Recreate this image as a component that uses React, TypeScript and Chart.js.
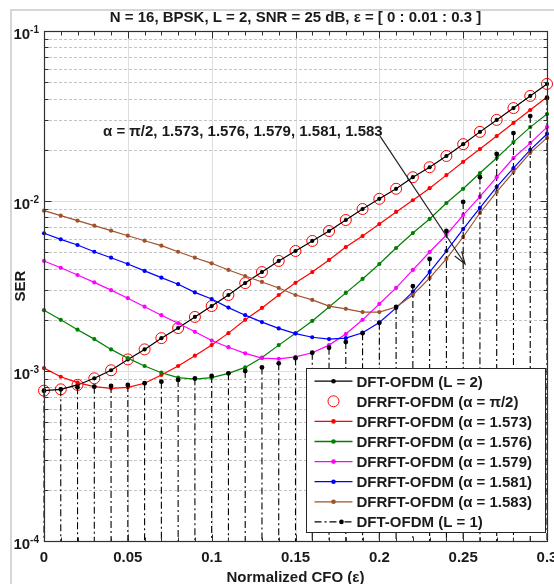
import React, { useEffect, useRef } from 'react';
import { Chart, registerables } from 'chart.js';

Chart.register(...registerables);

// ---------------- data ----------------
const eps = [
  0, 0.01, 0.02, 0.03, 0.04, 0.05, 0.06, 0.07, 0.08, 0.09, 0.1,
  0.11, 0.12, 0.13, 0.14, 0.15, 0.16, 0.17, 0.18, 0.19, 0.2,
  0.21, 0.22, 0.23, 0.24, 0.25, 0.26, 0.27, 0.28, 0.29, 0.3,
];

const serDftL2 = [
  7.66e-4, 7.8e-4, 8.28e-4, 9.06e-4, 1.01e-3, 1.17e-3, 1.34e-3, 1.56e-3, 1.79e-3, 2.08e-3,
  2.41e-3, 2.8e-3, 3.29e-3, 3.82e-3, 4.44e-3, 5.08e-3, 5.82e-3, 6.66e-3, 7.73e-3, 8.97e-3,
  1.03e-2, 1.18e-2, 1.38e-2, 1.58e-2, 1.84e-2, 2.16e-2, 2.55e-2, 3.0e-2, 3.52e-2, 4.15e-2, 4.88e-2,
];

const serPiOver2 = [
  7.66e-4, 7.8e-4, 8.28e-4, 9.06e-4, 1.01e-3, 1.17e-3, 1.34e-3, 1.56e-3, 1.79e-3, 2.08e-3,
  2.41e-3, 2.8e-3, 3.29e-3, 3.82e-3, 4.44e-3, 5.08e-3, 5.82e-3, 6.66e-3, 7.73e-3, 8.97e-3,
  1.03e-2, 1.18e-2, 1.38e-2, 1.58e-2, 1.84e-2, 2.16e-2, 2.55e-2, 3.0e-2, 3.52e-2, 4.15e-2, 4.88e-2,
];

const serA1573 = [
  1.04e-3, 9.25e-4, 8.54e-4, 8.09e-4, 7.91e-4, 8.02e-4, 8.47e-4, 9.47e-4, 1.07e-3, 1.23e-3,
  1.42e-3, 1.67e-3, 2.0e-3, 2.35e-3, 2.8e-3, 3.3e-3, 3.82e-3, 4.5e-3, 5.36e-3, 6.22e-3,
  7.32e-3, 8.62e-3, 1.01e-2, 1.19e-2, 1.42e-2, 1.7e-2, 2.02e-2, 2.41e-2, 2.88e-2, 3.43e-2, 4.09e-2,
];

const serA1576 = [
  2.28e-3, 2.0e-3, 1.75e-3, 1.54e-3, 1.34e-3, 1.19e-3, 1.07e-3, 9.77e-4, 9.14e-4, 8.97e-4,
  9.14e-4, 9.69e-4, 1.05e-3, 1.2e-3, 1.42e-3, 1.67e-3, 1.97e-3, 2.38e-3, 2.88e-3, 3.48e-3,
  4.26e-3, 5.29e-3, 6.48e-3, 7.84e-3, 9.73e-3, 1.18e-2, 1.46e-2, 1.79e-2, 2.22e-2, 2.72e-2, 3.25e-2,
];

const serA1579 = [
  4.44e-3, 4.05e-3, 3.67e-3, 3.32e-3, 2.99e-3, 2.68e-3, 2.39e-3, 2.13e-3, 1.91e-3, 1.7e-3,
  1.51e-3, 1.38e-3, 1.27e-3, 1.19e-3, 1.18e-3, 1.21e-3, 1.28e-3, 1.42e-3, 1.65e-3, 2.0e-3,
  2.48e-3, 3.08e-3, 3.93e-3, 5.01e-3, 6.31e-3, 8.27e-3, 1.06e-2, 1.38e-2, 1.79e-2, 2.19e-2, 2.72e-2,
];

const serA1581 = [
  6.46e-3, 5.95e-3, 5.51e-3, 5.03e-3, 4.64e-3, 4.26e-3, 3.88e-3, 3.54e-3, 3.24e-3, 2.9e-3,
  2.65e-3, 2.36e-3, 2.13e-3, 1.94e-3, 1.78e-3, 1.66e-3, 1.58e-3, 1.54e-3, 1.56e-3, 1.68e-3,
  1.93e-3, 2.35e-3, 2.92e-3, 3.82e-3, 5.08e-3, 6.84e-3, 9.1e-3, 1.21e-2, 1.56e-2, 2.0e-2, 2.48e-2,
];

const serA1583 = [
  8.77e-3, 8.2e-3, 7.66e-3, 7.16e-3, 6.69e-3, 6.25e-3, 5.84e-3, 5.46e-3, 5.03e-3, 4.64e-3,
  4.3e-3, 3.93e-3, 3.62e-3, 3.34e-3, 3.08e-3, 2.8e-3, 2.62e-3, 2.41e-3, 2.32e-3, 2.22e-3,
  2.22e-3, 2.38e-3, 2.8e-3, 3.52e-3, 4.56e-3, 6.14e-3, 8.5e-3, 1.13e-2, 1.48e-2, 1.92e-2, 2.35e-2,
];

const serDftL1 = [
  7.66e-4, 7.8e-4, 8.02e-4, 8.09e-4, 8.16e-4, 8.28e-4, 8.47e-4, 8.65e-4, 8.86e-4, 9.06e-4,
  9.35e-4, 9.69e-4, 1.0e-3, 1.05e-3, 1.11e-3, 1.19e-3, 1.28e-3, 1.37e-3, 1.48e-3, 1.67e-3,
  1.92e-3, 2.38e-3, 3.16e-3, 4.56e-3, 6.66e-3, 9.87e-3, 1.38e-2, 1.89e-2, 2.51e-2, 3.16e-2, 4.03e-2,
];

const xTickValues = [0, 0.05, 0.1, 0.15, 0.2, 0.25, 0.3];
const xTickLabels = ['0', '0.05', '0.1', '0.15', '0.2', '0.25', '0.3'];
const xMinorStep = 0.01;
const yExponents = [-1, -2, -3, -4];

const X_MIN = 0;
const X_MAX = 0.3;
const Y_MIN = 1e-4;
const Y_MAX = 1e-1;

const titleText = 'N = 16, BPSK, L = 2, SNR = 25 dB, \u03B5 = [ 0 : 0.01 : 0.3 ]';
const xTitle = 'Normalized CFO (\u03B5)';
const yTitle = 'SER';
const annotationText = '\u03B1 = \u03C0/2, 1.573, 1.576, 1.579, 1.581, 1.583';
// annotation anchor and arrow in data units
const annotationAt = { x: 0.0352, y: 0.026 };
const arrowFrom = { x: 0.2004, y: 0.0241 };
const arrowTo = { x: 0.2511, y: 0.00426 };

const legendLabels = [
  'DFT-OFDM (L = 2)',
  'DFRFT-OFDM (\u03B1 = \u03C0/2)',
  'DFRFT-OFDM (\u03B1 = 1.573)',
  'DFRFT-OFDM (\u03B1 = 1.576)',
  'DFRFT-OFDM (\u03B1 = 1.579)',
  'DFRFT-OFDM (\u03B1 = 1.581)',
  'DFRFT-OFDM (\u03B1 = 1.583)',
  'DFT-OFDM (L = 1)',
];

const COLORS = {
  black: '#000000',
  red: '#ff0000',
  green: '#008000',
  magenta: '#ff00ff',
  blue: '#0000ff',
  brown: '#a0522d',
};

const FONT = '"Liberation Sans", Arial, Helvetica, sans-serif';

// ---------------- helpers ----------------
const pts = (arr: number[]) => eps.map((x, i) => ({ x, y: arr[i] }));

const lineDs = (label: string, arr: number[], color: string, order: number) => ({
  label,
  data: pts(arr),
  showLine: true,
  borderColor: color,
  backgroundColor: color,
  borderWidth: 1.2,
  pointRadius: 2.1,
  pointHoverRadius: 2.1,
  pointBorderWidth: 0,
  pointBackgroundColor: color,
  pointBorderColor: color,
  tension: 0,
  clip: false as any,
  order,
});

const stemData: { x: number; y: number | null }[] = [];
eps.forEach((x, i) => {
  stemData.push({ x, y: serDftL1[i] });
  stemData.push({ x, y: Y_MIN });
  stemData.push({ x, y: null });
});

const STEM_DASH = [7, 3, 2, 3];

type LegendKind = 'line' | 'circle' | 'dash';
const legendStyles: { kind: LegendKind; color: string }[] = [
  { kind: 'line', color: COLORS.black },
  { kind: 'circle', color: COLORS.red },
  { kind: 'line', color: COLORS.red },
  { kind: 'line', color: COLORS.green },
  { kind: 'line', color: COLORS.magenta },
  { kind: 'line', color: COLORS.blue },
  { kind: 'line', color: COLORS.brown },
  { kind: 'dash', color: COLORS.black },
];

const decorPlugin = {
  id: 'decor',
  beforeDraw(chart: any) {
    const { ctx, width, height } = chart;
    ctx.save();
    ctx.fillStyle = '#ffffff';
    ctx.fillRect(0, 0, width, height);
    ctx.strokeStyle = '#d6d6d6';
    ctx.lineWidth = 2;
    ctx.beginPath();
    ctx.moveTo(11, height);
    ctx.lineTo(11, 10);
    ctx.lineTo(width, 10);
    ctx.stroke();
    ctx.restore();
  },
  beforeDatasetsDraw(chart: any) {
    const { ctx, chartArea } = chart;
    const xs = chart.scales.x;
    const ys = chart.scales.y;
    const { left, right, top, bottom } = chartArea;
    ctx.save();
    // vertical major grid
    ctx.strokeStyle = '#dedede';
    ctx.lineWidth = 1;
    ctx.setLineDash([]);
    xTickValues.forEach((v) => {
      const px = Math.round(xs.getPixelForValue(v)) + 0.5;
      ctx.beginPath();
      ctx.moveTo(px, top);
      ctx.lineTo(px, bottom);
      ctx.stroke();
    });
    // horizontal major grid
    yExponents.forEach((e) => {
      const py = Math.round(ys.getPixelForValue(Math.pow(10, e))) + 0.5;
      ctx.beginPath();
      ctx.moveTo(left, py);
      ctx.lineTo(right, py);
      ctx.stroke();
    });
    // minor dotted grid
    ctx.strokeStyle = '#c4c4c4';
    ctx.setLineDash([3, 2]);
    yExponents.slice(0, 3).forEach((e) => {
      const d = Math.pow(10, e - 1);
      for (let m = 2; m <= 9; m++) {
        const py = Math.round(ys.getPixelForValue(m * d)) + 0.5;
        ctx.beginPath();
        ctx.moveTo(left, py);
        ctx.lineTo(right, py);
        ctx.stroke();
      }
    });
    ctx.restore();
  },
  afterDatasetsDraw(chart: any) {
    const { ctx, chartArea } = chart;
    const xs = chart.scales.x;
    const ys = chart.scales.y;
    const { left, right, top, bottom } = chartArea;
    ctx.save();
    ctx.setLineDash([]);

    // axes box
    ctx.strokeStyle = '#303030';
    ctx.lineWidth = 1.2;
    const L = Math.round(left) + 0.5;
    const R = Math.round(right) + 0.5;
    const T = Math.round(top) + 0.5;
    const B = Math.round(bottom) + 0.5;
    ctx.strokeRect(L, T, R - L, B - T);

    // x ticks
    ctx.lineWidth = 1;
    const nMinor = Math.round((X_MAX - X_MIN) / xMinorStep);
    for (let i = 0; i <= nMinor; i++) {
      const v = X_MIN + i * xMinorStep;
      const px = Math.round(xs.getPixelForValue(v)) + 0.5;
      const major = i % 5 === 0;
      const len = major ? 7 : 4;
      ctx.beginPath();
      ctx.moveTo(px, B);
      ctx.lineTo(px, B - len);
      ctx.moveTo(px, T);
      ctx.lineTo(px, T + len);
      ctx.stroke();
    }
    // y ticks
    yExponents.forEach((e, idx) => {
      const py = Math.round(ys.getPixelForValue(Math.pow(10, e))) + 0.5;
      ctx.beginPath();
      ctx.moveTo(L, py);
      ctx.lineTo(L + 7, py);
      ctx.moveTo(R, py);
      ctx.lineTo(R - 7, py);
      ctx.stroke();
      if (idx < 3) {
        const d = Math.pow(10, e - 1);
        for (let m = 2; m <= 9; m++) {
          const p = Math.round(ys.getPixelForValue(m * d)) + 0.5;
          ctx.beginPath();
          ctx.moveTo(L, p);
          ctx.lineTo(L + 4, p);
          ctx.moveTo(R, p);
          ctx.lineTo(R - 4, p);
          ctx.stroke();
        }
      }
    });

    // x tick labels
    ctx.fillStyle = '#1a1a1a';
    ctx.font = `bold 15px ${FONT}`;
    ctx.textAlign = 'center';
    ctx.textBaseline = 'alphabetic';
    xTickValues.forEach((v, i) => {
      ctx.fillText(xTickLabels[i], xs.getPixelForValue(v), bottom + 21);
    });

    // y tick labels 10^e
    yExponents.forEach((e) => {
      const py = ys.getPixelForValue(Math.pow(10, e));
      const sup = String(e);
      ctx.font = `bold 10px ${FONT}`;
      const supW = ctx.measureText(sup).width;
      ctx.font = `bold 15px ${FONT}`;
      const baseW = ctx.measureText('10').width;
      const rightEdge = left - 5;
      ctx.textAlign = 'left';
      ctx.fillText('10', rightEdge - supW - baseW, py + 8);
      ctx.font = `bold 10px ${FONT}`;
      ctx.fillText(sup, rightEdge - supW, py + 1.5);
    });

    // title
    ctx.font = `bold 15px ${FONT}`;
    ctx.textAlign = 'center';
    ctx.fillText(titleText, (left + right) / 2, 22);

    // x title
    ctx.fillText(xTitle, (left + right) / 2, 582);

    // y title
    ctx.save();
    ctx.translate(25, (top + bottom) / 2);
    ctx.rotate(-Math.PI / 2);
    ctx.textAlign = 'center';
    ctx.fillText(yTitle, 0, 0);
    ctx.restore();

    // annotation text
    ctx.textAlign = 'left';
    ctx.fillStyle = '#1a1a1a';
    ctx.font = `bold 15px ${FONT}`;
    ctx.fillText(annotationText, xs.getPixelForValue(annotationAt.x), ys.getPixelForValue(annotationAt.y) + 5.5);

    // arrow
    const ax1 = xs.getPixelForValue(arrowFrom.x);
    const ay1 = ys.getPixelForValue(arrowFrom.y);
    const ax2 = xs.getPixelForValue(arrowTo.x);
    const ay2 = ys.getPixelForValue(arrowTo.y);
    ctx.strokeStyle = '#222';
    ctx.lineWidth = 1.2;
    ctx.beginPath();
    ctx.moveTo(ax1, ay1);
    ctx.lineTo(ax2, ay2);
    const ang = Math.atan2(ay2 - ay1, ax2 - ax1);
    const hl = 13;
    const ha = 0.33;
    ctx.moveTo(ax2 - hl * Math.cos(ang - ha), ay2 - hl * Math.sin(ang - ha));
    ctx.lineTo(ax2, ay2);
    ctx.lineTo(ax2 - hl * Math.cos(ang + ha), ay2 - hl * Math.sin(ang + ha));
    ctx.stroke();

    // legend
    const lw = 239;
    const lh = 164;
    const lx = Math.round(right) - 2 - lw + 0.5;
    const ly = Math.round(bottom) - 9 - lh + 0.5;
    ctx.fillStyle = '#ffffff';
    ctx.fillRect(lx, ly, lw, lh);
    ctx.strokeStyle = '#262626';
    ctx.lineWidth = 1;
    ctx.strokeRect(lx, ly, lw, lh);
    legendLabels.forEach((lab, i) => {
      const cy = ly + 12.7 + i * 20.1;
      const st = legendStyles[i];
      const x1 = lx + 8;
      const x2 = lx + 46;
      const xm = (x1 + x2) / 2;
      ctx.strokeStyle = st.color;
      ctx.fillStyle = st.color;
      if (st.kind === 'circle') {
        ctx.lineWidth = 1;
        ctx.beginPath();
        ctx.arc(xm, cy, 5.5, 0, Math.PI * 2);
        ctx.stroke();
      } else {
        ctx.lineWidth = 1.3;
        ctx.setLineDash(st.kind === 'dash' ? STEM_DASH : []);
        ctx.beginPath();
        ctx.moveTo(x1, cy);
        ctx.lineTo(x2, cy);
        ctx.stroke();
        ctx.setLineDash([]);
        ctx.beginPath();
        ctx.arc(st.kind === 'dash' ? xm + 8 : xm, cy, 2.3, 0, Math.PI * 2);
        ctx.fill();
      }
      ctx.fillStyle = '#1a1a1a';
      ctx.font = `bold 15px ${FONT}`;
      ctx.textAlign = 'left';
      ctx.fillText(lab, lx + 50, cy + 5.5);
    });

    ctx.restore();
  },
};

export default function App() {
  const ref = useRef<HTMLCanvasElement | null>(null);

  useEffect(() => {
    if (!ref.current) return;
    const chart = new Chart(ref.current, {
      type: 'line',
      data: {
        datasets: [
          {
            label: legendLabels[1],
            data: pts(serPiOver2),
            showLine: false,
            pointRadius: 5.5,
            pointHoverRadius: 5.5,
            pointBorderWidth: 1,
            pointBorderColor: COLORS.red,
            pointBackgroundColor: 'rgba(0,0,0,0)',
            borderColor: COLORS.red,
            backgroundColor: 'rgba(0,0,0,0)',
            clip: false as any,
            order: 8,
          } as any,
          lineDs(legendLabels[0], serDftL2, COLORS.black, 7),
          lineDs(legendLabels[2], serA1573, COLORS.red, 6),
          lineDs(legendLabels[3], serA1576, COLORS.green, 5),
          lineDs(legendLabels[4], serA1579, COLORS.magenta, 4),
          lineDs(legendLabels[5], serA1581, COLORS.blue, 3),
          lineDs(legendLabels[6], serA1583, COLORS.brown, 2),
          {
            label: legendLabels[7],
            data: stemData,
            showLine: true,
            spanGaps: false,
            borderColor: COLORS.black,
            backgroundColor: COLORS.black,
            borderWidth: 1.1,
            borderDash: STEM_DASH,
            pointRadius: (c: any) => (c.dataIndex % 3 === 0 ? 2.4 : 0),
            pointHoverRadius: 0,
            pointBorderWidth: 0,
            pointBackgroundColor: COLORS.black,
            clip: false as any,
            order: 1,
          } as any,
        ],
      },
      options: {
        animation: false,
        responsive: true,
        maintainAspectRatio: false,
        events: [],
        layout: { padding: { left: 44, top: 31, right: 7, bottom: 43 } },
        scales: {
          x: { type: 'linear', min: X_MIN, max: X_MAX, display: false },
          y: { type: 'logarithmic', min: Y_MIN, max: Y_MAX, display: false },
        },
        plugins: {
          legend: { display: false },
          tooltip: { enabled: false },
          title: { display: false },
        },
      },
      plugins: [decorPlugin],
    });
    return () => chart.destroy();
  }, []);

  return (
    <div style={{ position: 'fixed', left: 0, top: 0, width: 554, height: 584, background: '#ffffff' }}>
      <canvas ref={ref} />
    </div>
  );
}
